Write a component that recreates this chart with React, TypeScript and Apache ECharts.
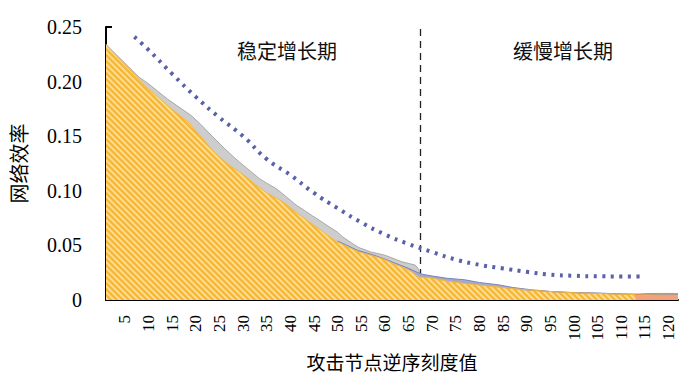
import React, { useEffect, useRef } from "react";
import * as echarts from "echarts";

// ---- data ----
const xTickValues = [5, 10, 15, 20, 25, 30, 35, 40, 45, 50, 55, 60, 65, 70, 75, 80, 85, 90, 95, 100, 105, 110, 115, 120];
const yTickValues = [0, 0.05, 0.1, 0.15, 0.2, 0.25];

// orange (main, hatched) area
const orangeX = [1, 2, 4, 6, 8, 10, 12.5, 14, 16, 18.4, 20, 22, 23.7, 25, 27.2, 30, 32.5, 35, 38.4, 41, 44, 47, 49.6, 52, 54.5, 57, 59.4, 62, 64.3, 66, 67.1, 70, 73.4, 77, 80.4, 84, 87.4, 91, 94.4, 98, 101.4, 105, 108.4, 114, 122];
const orangeY = [0.234, 0.229, 0.22, 0.211, 0.202, 0.193, 0.184, 0.178, 0.171, 0.163, 0.155, 0.145, 0.136, 0.131, 0.123, 0.115, 0.106, 0.098, 0.09, 0.081, 0.0715, 0.062, 0.054, 0.049, 0.044, 0.041, 0.038, 0.033, 0.029, 0.025, 0.021, 0.02, 0.017, 0.015, 0.0134, 0.012, 0.0103, 0.009, 0.0079, 0.007, 0.0064, 0.006, 0.0055, 0.0048, 0.0043];

// gray area (behind)
const grayX = [1, 8, 10, 12, 14, 16, 19, 21, 23, 26, 28, 29.3, 31, 33.5, 35, 37, 39, 41.2, 43, 44.7, 46.5, 48.2, 50, 51, 53, 54.5, 57, 60, 63.6, 66.4, 67, 67.6, 70, 75, 80, 90, 100, 110, 122];
const grayY = [0.234, 0.204, 0.198, 0.191, 0.184, 0.178, 0.169, 0.161, 0.152, 0.139, 0.131, 0.126, 0.12, 0.111, 0.107, 0.102, 0.095, 0.087, 0.082, 0.077, 0.072, 0.067, 0.062, 0.058, 0.052, 0.048, 0.044, 0.041, 0.035, 0.032, 0.029, 0.022, 0.021, 0.018, 0.014, 0.009, 0.0065, 0.0055, 0.0048];

// blue area
const blueX = [50, 52, 54.2, 57, 59.4, 62, 65, 67, 68, 70, 73, 76.9, 80, 83.9, 87, 90.9, 95, 100, 105, 110, 122];
const blueY = [0.054, 0.05, 0.0455, 0.042, 0.0385, 0.034, 0.029, 0.025, 0.0235, 0.022, 0.02, 0.0185, 0.016, 0.014, 0.0115, 0.0094, 0.0078, 0.0068, 0.0064, 0.0055, 0.0045];

// red area at the tail
const redX = [113, 115, 118, 121, 122];
const redY = [0.0048, 0.0058, 0.006, 0.006, 0.0058];

// dotted blue curve
const dotX = [7, 10, 15, 20, 25, 30, 35, 40, 45, 50, 55, 60, 65, 70, 75, 80, 85, 90, 95, 100, 105, 110, 115];
const dotY = [0.241, 0.229, 0.207, 0.186, 0.167, 0.15, 0.129, 0.1145, 0.098, 0.084, 0.071, 0.06, 0.0513, 0.0439, 0.037, 0.0322, 0.0289, 0.0258, 0.0232, 0.0222, 0.0217, 0.0216, 0.0216];

const phaseBoundary = 67.5;
const phaseLabels = ["稳定增长期", "缓慢增长期"];
const xAxisName = "攻击节点逆序刻度值";
const yAxisName = "网络效率";

const zip = (xs: number[], ys: number[]) => xs.map((x, i) => [x, ys[i]]);

function makeHatch(): HTMLCanvasElement {
  const c = document.createElement("canvas");
  c.width = 6;
  c.height = 6;
  const ctx = c.getContext("2d")!;
  ctx.fillStyle = "#f5b83c";
  ctx.fillRect(0, 0, 6, 6);
  ctx.strokeStyle = "#fcdf98";
  ctx.lineWidth = 1.7;
  ctx.beginPath();
  ctx.moveTo(-1, -1);
  ctx.lineTo(7, 7);
  ctx.moveTo(-1, 5);
  ctx.lineTo(1, 7);
  ctx.moveTo(5, -1);
  ctx.lineTo(7, 1);
  ctx.stroke();
  return c;
}

export default function App() {
  const ref = useRef<HTMLDivElement>(null);
  useEffect(() => {
    if (!ref.current) return;
    const chart = echarts.init(ref.current, undefined, { renderer: "svg" });
    const serif = "Liberation Serif, Times New Roman, serif";
    const cjk = "Noto Sans CJK SC";
    const hatch = makeHatch();
    chart.setOption({
      animation: false,
      backgroundColor: "#ffffff",
      grid: { left: 101, right: 22, top: 27, bottom: 74, containLabel: false },
      xAxis: {
        type: "value",
        min: 1,
        max: 122,
        name: xAxisName,
        nameLocation: "middle",
        nameGap: 52,
        nameTextStyle: { fontFamily: cjk, fontSize: 19, color: "#000" },
        axisLine: { show: true, onZero: false, lineStyle: { color: "#000", width: 2 } },
        axisTick: { show: true, inside: true, length: 5, customValues: xTickValues, lineStyle: { color: "#000", width: 1.5 } },
        axisLabel: {
          customValues: xTickValues,
          rotate: 90,
          margin: 15,
          fontFamily: serif,
          fontSize: 17,
          color: "#000",
        },
        splitLine: { show: false },
      },
      yAxis: {
        type: "value",
        min: 0,
        max: 0.25,
        interval: 0.05,
        name: yAxisName,
        nameLocation: "middle",
        nameGap: 78,
        nameTextStyle: { fontFamily: cjk, fontSize: 20, color: "#000" },
        axisLine: { show: true, lineStyle: { color: "#000", width: 2 } },
        axisTick: { show: true, inside: true, length: 6, lineStyle: { color: "#000", width: 2 } },
        axisLabel: {
          customValues: yTickValues,
          margin: 24,
          fontFamily: serif,
          fontSize: 20,
          color: "#000",
          formatter: (v: number) => (v === 0 ? "0" : v.toFixed(2)),
        },
        splitLine: { show: false },
      },
      graphic: [
        {
          type: "text",
          left: 237,
          top: 40,
          style: { text: phaseLabels[0], font: `20px "${cjk}"`, fill: "#111" },
        },
        {
          type: "text",
          left: 513,
          top: 40,
          style: { text: phaseLabels[1], font: `20px "${cjk}"`, fill: "#111" },
        },
      ],
      series: [
        {
          type: "line",
          data: zip(grayX, grayY),
          symbol: "none",
          lineStyle: { color: "#a8a8a8", width: 1 },
          areaStyle: { color: "#cdcdcd", opacity: 1 },
          markLine: {
            silent: true,
            z: 1,
            symbol: ["none", "none"],
            label: { show: false },
            lineStyle: { color: "#222", width: 1.3, type: [7, 5] },
            data: [{ xAxis: phaseBoundary }],
          },
        },
        {
          type: "line",
          data: zip(blueX, blueY),
          symbol: "none",
          lineStyle: { color: "#7a82c0", width: 1 },
          areaStyle: { color: "#a6acd8", opacity: 1 },
        },
        {
          type: "line",
          data: zip(orangeX, orangeY),
          symbol: "none",
          lineStyle: { color: "#f4b83c", width: 1 },
          areaStyle: { color: { image: hatch, repeat: "repeat" }, opacity: 1 },
        },
        {
          type: "line",
          data: zip(redX, redY),
          symbol: "none",
          lineStyle: { color: "#ee8058", width: 1 },
          areaStyle: { color: "#f3a27c", opacity: 1 },
        },
        {
          type: "line",
          data: zip(dotX, dotY),
          symbol: "none",
          smooth: true,
          lineStyle: { color: "#5962a8", width: 4, type: [3, 5.5], cap: "butt" },
          z: 5,
        },
      ],
    });
    return () => chart.dispose();
  }, []);
  return <div ref={ref} style={{ width: 700, height: 376, position: "absolute", left: 0, top: 0 }} />;
}
